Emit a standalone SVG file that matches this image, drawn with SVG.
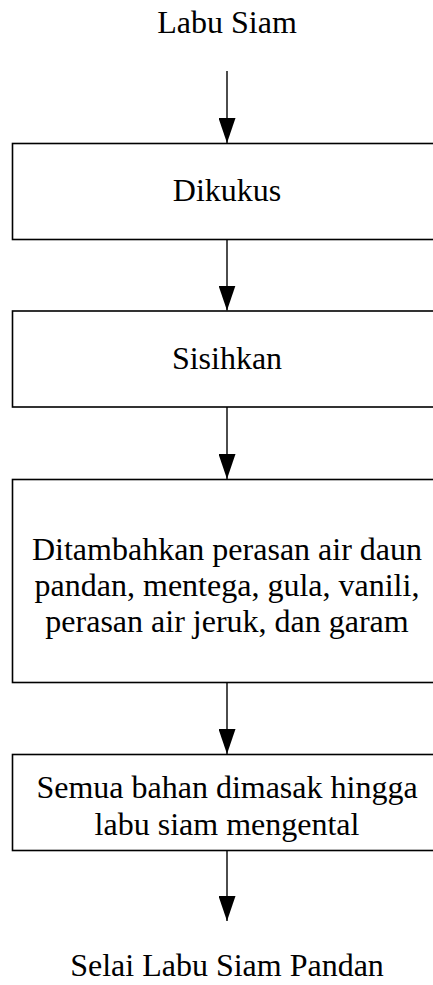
<svg xmlns="http://www.w3.org/2000/svg" width="433" height="985" viewBox="0 0 433 985">
  <style>
    .box { fill: #ffffff; stroke: #000000; stroke-width: 1.6; }
    .lbl { font-family: 'Liberation Serif', 'DejaVu Serif', serif; font-size: 32px; fill: #000000; text-anchor: middle; }
    .con { stroke: #000000; stroke-width: 1.4; fill: none; marker-end: url(#arrow); }
  </style>
  <defs>
    <marker id="arrow" markerUnits="userSpaceOnUse" viewBox="0 0 25 17" markerWidth="25" markerHeight="17" refX="25" refY="8.5" orient="auto">
      <path d="M0,0 L25,8.5 L0,17 z" fill="#000000"/>
    </marker>
  </defs>
  <rect width="433" height="985" fill="#ffffff"/>

  <g id="connectors">
    <line class="con" x1="227" y1="71" x2="227" y2="143"/>
    <line class="con" x1="227" y1="239.5" x2="227" y2="310.5"/>
    <line class="con" x1="227" y1="407" x2="227" y2="479"/>
    <line class="con" x1="227" y1="682.5" x2="227" y2="754"/>
    <line class="con" x1="227" y1="851" x2="227" y2="921"/>
  </g>

  <g id="start">
    <text class="lbl" x="227" y="33" font-family="Liberation Serif, DejaVu Serif, serif">Labu Siam</text>
  </g>

  <g id="dikukus">
    <rect class="box" x="12.5" y="143.5" width="429" height="96"/>
    <text class="lbl" x="227" y="201">Dikukus</text>
  </g>

  <g id="sisihkan">
    <rect class="box" x="12.5" y="311" width="429" height="96"/>
    <text class="lbl" x="227" y="369">Sisihkan</text>
  </g>

  <g id="ditambahkan">
    <rect class="box" x="12.5" y="479.5" width="429" height="203"/>
    <text class="lbl" x="227" y="560">Ditambahkan perasan air daun</text>
    <text class="lbl" x="227" y="596">pandan, mentega, gula, vanili,</text>
    <text class="lbl" x="227" y="632">perasan air jeruk, dan garam</text>
  </g>

  <g id="dimasak">
    <rect class="box" x="12.5" y="754.5" width="429" height="96"/>
    <text class="lbl" x="227" y="798">Semua bahan dimasak hingga</text>
    <text class="lbl" x="227" y="835">labu siam mengental</text>
  </g>

  <g id="end">
    <text class="lbl" x="227" y="976">Selai Labu Siam Pandan</text>
  </g>
</svg>
